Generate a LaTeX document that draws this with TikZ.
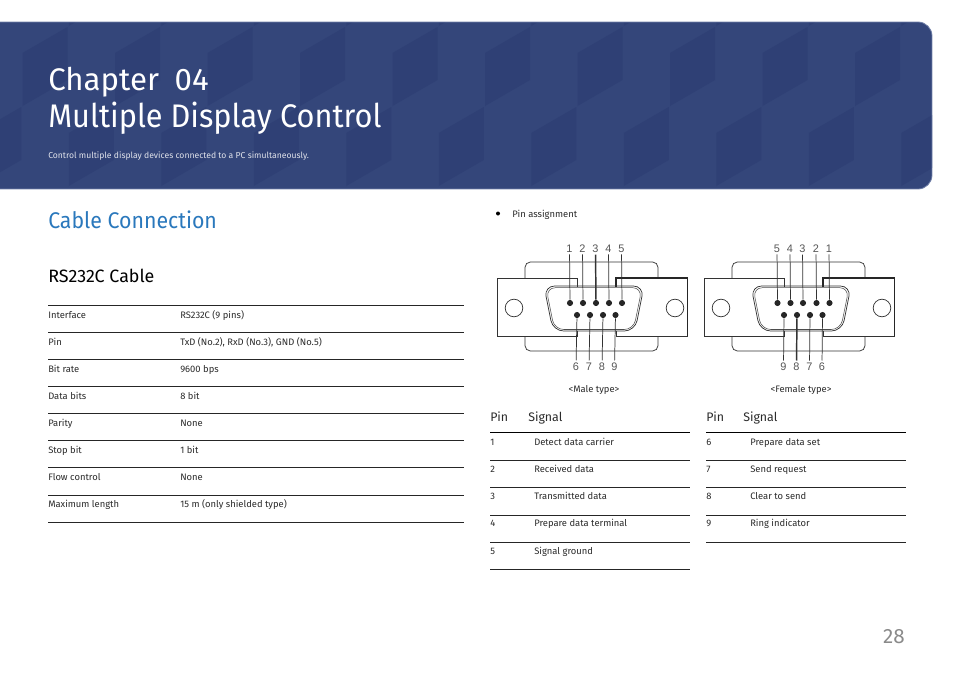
\documentclass[tikz,border=0pt]{standalone}
\usepackage{fontspec}
\setmainfont{Fira Sans}
\newfontfamily\narrowfont[FakeStretch=0.94]{Fira Sans}
\newfontfamily\digitfont{Liberation Sans}
\definecolor{hdrbase}{HTML}{34467A}
\definecolor{hdrdark}{HTML}{2F4075}
\definecolor{hdredge}{HTML}{7080A8}
\definecolor{secblue}{HTML}{2A78BC}
\definecolor{txt}{HTML}{2B2B2B}
\definecolor{pinlabel}{HTML}{555555}
\definecolor{pagenum}{HTML}{8A8A8A}
\tikzset{
  rule/.style={line width=0.75pt,black!85},
  headrule/.style={line width=1.2pt,black},
  small/.style={anchor=base west,inner sep=0pt,font=\fontsize{7.05}{8}\selectfont,text=txt},
  colhead/.style={anchor=base west,inner sep=0pt,font=\fontsize{9.3}{11}\selectfont,text=txt},
  conn/.style={line width=0.55pt,black!80},
  thick conn/.style={line width=1.1pt,black!80},
  pin/.style={circle,fill=black!85,inner sep=0pt,minimum size=4.6pt},
  pinnum/.style={inner sep=1.4pt,font=\digitfont\fontsize{8.2}{9}\selectfont,text=pinlabel},
}
\newcommand{\connector}[1]{%
\begin{scope}[shift={(#1,0)}]
  \draw[conn,rounded corners=4pt] (28,278) -- (28,262) -- (161,262) -- (161,278);
  \draw[conn,rounded corners=4pt] (28,336) -- (28,351) -- (161,351) -- (161,336);
  \draw[conn] (80,287) -- (80,278) -- (0,278) -- (0,336) -- (80,336) -- (80,331);
  \draw[conn] (119,331) -- (119,336) -- (190.5,336);
  \draw[line width=0.95pt,black!85] (119,287) -- (119,278) -- (190.5,278) -- (190.5,336);
  \draw[conn] (17,308) circle (8.8);
  \draw[conn] (178,308) circle (8.8);
  \draw[conn,rounded corners=8pt] (47,286) -- (147,286) -- (138,331) -- (56,331) -- cycle;
  \draw[line width=0.4pt,black!70,rounded corners=7pt] (49,287.7) -- (145,287.7) -- (136.6,329.5) -- (57.4,329.5) -- cycle;
\end{scope}}
\begin{document}
\begin{tikzpicture}[x=0.75pt,y=-0.75pt]
\useasboundingbox (0,0) rectangle (954,675);
% banner
\begin{scope}
  \path[clip,rounded corners=10.5pt] (-20,22) rectangle (932,189);
  \fill[hdrbase] (-20,22) rectangle (932,189);
  \foreach \k in {-1,...,10}{
    \foreach \yy in {-27,133}{
      \fill[hdrdark] ({-70+92.5*\k+46.25},\yy) -- ++(45,-26) -- ++(0,53) -- ++(-45,26) -- cycle;
    }
    \fill[hdrdark] ({-70+92.5*\k},53) -- ++(45,-26) -- ++(0,53) -- ++(-45,26) -- cycle;
  }
\end{scope}
\draw[hdredge,line width=0.6pt,rounded corners=10.5pt] (0,22) -- (932,22) -- (932,189) -- (0,189);
\node[anchor=base west,inner sep=0pt,text=white,font=\fontsize{23.4}{26}\selectfont] (chap) at (48,90) {Chapter\hspace{0.5em}04};
\node[anchor=base west,inner sep=0pt,text=white,font=\narrowfont\fontsize{24.5}{28}\selectfont] (title) at (48,127) {Multiple Display Control};
\node[anchor=base west,inner sep=0pt,text=white!85!hdrbase,font=\fontsize{6.45}{8}\selectfont] (sub) at (48,158) {Control multiple display devices connected to a PC simultaneously.};
% left
\node[anchor=base west,inner sep=0pt,text=secblue,font=\narrowfont\fontsize{17}{20}\selectfont] (cc) at (48,228) {Cable Connection};
\node[anchor=base west,inner sep=0pt,text=black,font=\fontsize{13.4}{15}\selectfont] (rs) at (48,282) {RS232C Cable};
\foreach \yy in {305.5,332.5,359.5,386.5,413.5,440.5,467.5,495,522.5}{
  \draw[rule] (48,\yy) -- (464,\yy);
}
\foreach \a/\b/\yy in {Interface/RS232C (9 pins)/318,Pin/{TxD (No.2), RxD (No.3), GND (No.5)}/345,Bit rate/9600 bps/372,Data bits/8 bit/399,Parity/None/426,Stop bit/1 bit/453,Flow control/None/480,Maximum length/15 m (only shielded type)/507}{
  \node[small] at (48,\yy) {\a};
  \node[small] at (180,\yy) {\b};
}
% bullet
\fill[black] (498,213.5) circle (2);
\node[small] (pa) at (512,217) {Pin assignment};
% connectors
\connector{497}
\connector{704}
% male pins
\foreach \n/\x in {1/570,2/583,3/596,4/609,5/622}{
  \node[pin] (mp\n) at (\x,303) {};
  \node[pinnum] (ml\n) at (\x-0.5,248.5) {\n};
}
\foreach \n/\x in {6/577,7/590,8/603,9/615.5}{
  \node[pin] (mp\n) at (\x,315) {};
  \node[pinnum] (ml\n) at (\x-1,366.5) {\n};
}
\foreach \n in {1,2,4,5,6,7,8,9}{\draw[conn] (ml\n) -- (mp\n);}
\draw[thick conn] (ml3) -- (mp3);
% female pins
\foreach \n/\x in {5/777.5,4/790.5,3/803,2/816.5,1/829.5}{
  \node[pin] (fp\n) at (\x,303) {};
  \node[pinnum] (fl\n) at (\x-0.5,248.5) {\n};
}
\foreach \n/\x in {9/784,8/797,7/810,6/822.5}{
  \node[pin] (fp\n) at (\x,315) {};
  \node[pinnum] (fl\n) at (\x-0.5,366.5) {\n};
}
\foreach \n in {1,2,3,4,5,6,7,9}{\draw[conn] (fl\n) -- (fp\n);}
\draw[thick conn] (fl8) -- (fp8);
\node[anchor=base,inner sep=0pt,font=\fontsize{7.05}{8}\selectfont,text=txt] (mt) at (594,392.5) {<Male type>};
\node[anchor=base,inner sep=0pt,font=\fontsize{7.05}{8}\selectfont,text=txt] (ft) at (801,392.5) {<Female type>};
% pin tables
\node[colhead] at (490,421) {Pin};
\node[colhead] at (528,421) {Signal};
\node[colhead] at (706,421) {Pin};
\node[colhead] at (743,421) {Signal};
\draw[headrule] (490,432.5) -- (690,432.5);
\draw[headrule] (706,432.5) -- (906,432.5);
\foreach \yy in {460.5,487.5,515,542.5,569.5}{\draw[rule] (490,\yy) -- (690,\yy);}
\foreach \yy in {460.5,487.5,515,542.5}{\draw[rule] (706,\yy) -- (906,\yy);}
\foreach \n/\s/\yy in {1/Detect data carrier/445,2/Received data/472,3/Transmitted data/499,4/Prepare data terminal/526.5,5/Signal ground/554}{
  \node[small] at (490,\yy) {\n};
  \node[small] at (534,\yy) {\s};
}
\foreach \n/\s/\yy in {6/Prepare data set/445,7/Send request/472,8/Clear to send/499,9/Ring indicator/526.5}{
  \node[small] at (706,\yy) {\n};
  \node[small] at (750,\yy) {\s};
}
\node[anchor=base east,inner sep=0pt,text=pagenum,font=\fontsize{15.5}{18}\selectfont] (pg) at (905,643) {28};
\end{tikzpicture}
\end{document}
